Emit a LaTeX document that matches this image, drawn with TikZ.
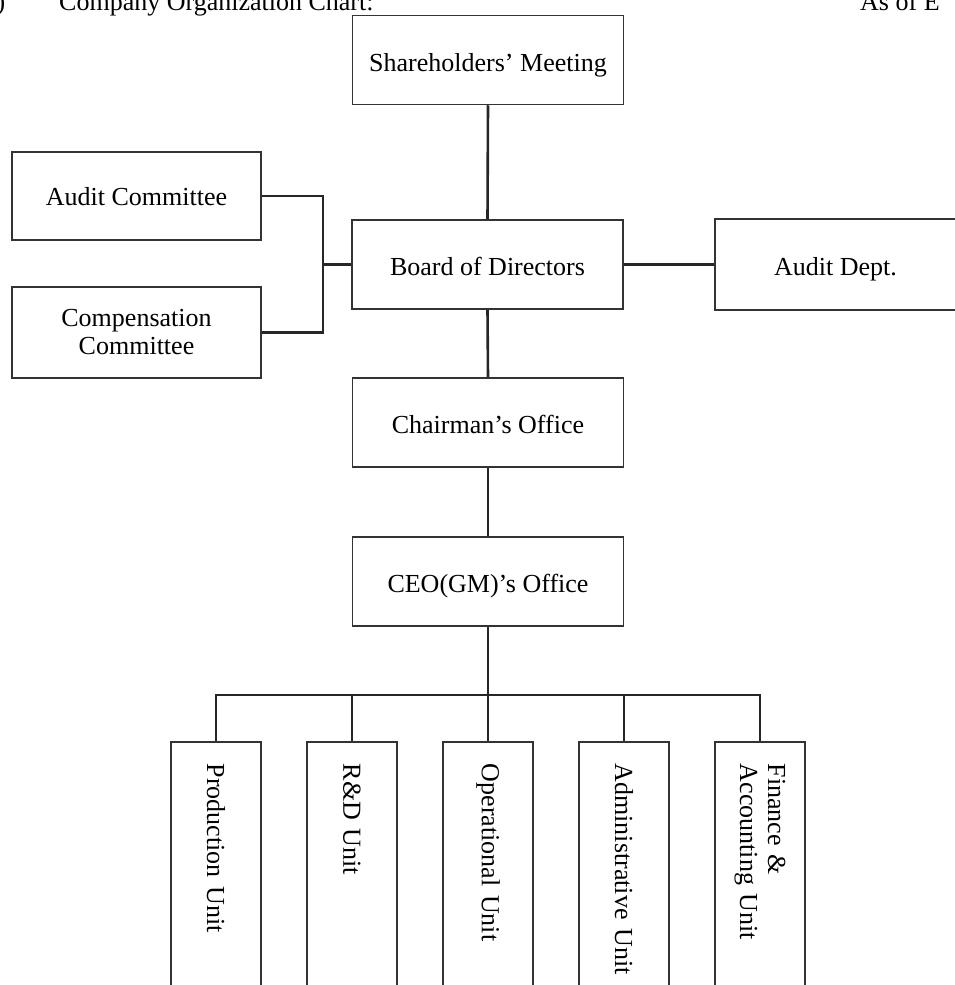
\documentclass[tikz,border=0pt]{standalone}
\usepackage{fontspec}
\setmainfont{Liberation Serif}
\begin{document}
\begin{tikzpicture}[x=1pt,y=-1pt,
  txt/.style={font=\fontsize{26}{28}\selectfont},
  box/.style={txt, draw=black!80, line width=1.5pt, fill=white, minimum width=271pt, minimum height=89pt,
     inner sep=2pt, align=center, text height=26pt, text depth=4pt},
  sidebox/.style={box, minimum width=249pt, minimum height=88pt},
  unitbox/.style={txt, draw=black!80, line width=1.5pt, fill=white, rotate=-90, anchor=west,
     minimum width=275pt, minimum height=90pt, text width=231pt, inner xsep=22pt, inner ysep=0pt, align=left},
  conn/.style={draw=black!85, line width=2.6pt}
]
\useasboundingbox (0,0) rectangle (954,985);

% header (cut off at the top)
\node[txt, anchor=base east, inner sep=0] (hdrparen) at (5.5,10) {)};
\node[txt, anchor=base west, inner sep=0] (hdrtitle) at (59,10) {Company Organization Chart:};
\node[txt, anchor=base west, inner sep=0] (hdrdate) at (860,10) {As of E};

% main column
\node[box] (share) at (488,60) {Shareholders’ Meeting};
\node[box] (board) at (487.5,264.5) {Board of Directors};
\node[box] (chair) at (488,422.5) {Chairman’s Office};
\node[box] (ceo) at (488,581.5) {CEO(GM)’s Office};

% side boxes
\node[sidebox, text height=24pt, text depth=6pt] (audit) at (136.5,196) {Audit Committee};
\node[sidebox, minimum height=91pt, text height=, text depth=] (comp) at (136.5,332.5) {Compensation\\Committee};
\node[box, minimum width=241pt, minimum height=91pt] (adept) at (835.5,264.5) {Audit Dept.};

% units
\coordinate (bus) at (488,695);
\node[unitbox] (prod) at (216,741) {Production Unit};
\node[unitbox] (rnd) at (352,741) {R\&D Unit};
\node[unitbox] (oper) at (488,741) {Operational Unit};
\node[unitbox] (admin) at (624,741) {Administrative Unit};
\node[unitbox] (fin) at (760,741) {Finance \&\\Accounting Unit};

% connectors
\draw[conn] (share.south) -- (board.north);
\draw[conn] (board.south) -- (chair.north);
\draw[conn] (chair.south) -- (ceo.north);
\draw[conn] (ceo.south) -- (bus);
\draw[conn] (board.east) -- (adept.west);
\coordinate (brk) at (323,264.5);
\draw[conn] (audit.east) -| (brk) |- (comp.east);
\draw[conn] (brk) -- (board.west);
\draw[conn] (prod.west) |- (bus) -| (fin.west);
\draw[conn] (rnd.west) -- (rnd.west |- bus);
\draw[conn] (oper.west) -- (bus);
\draw[conn] (admin.west) -- (admin.west |- bus);
\end{tikzpicture}
\end{document}
